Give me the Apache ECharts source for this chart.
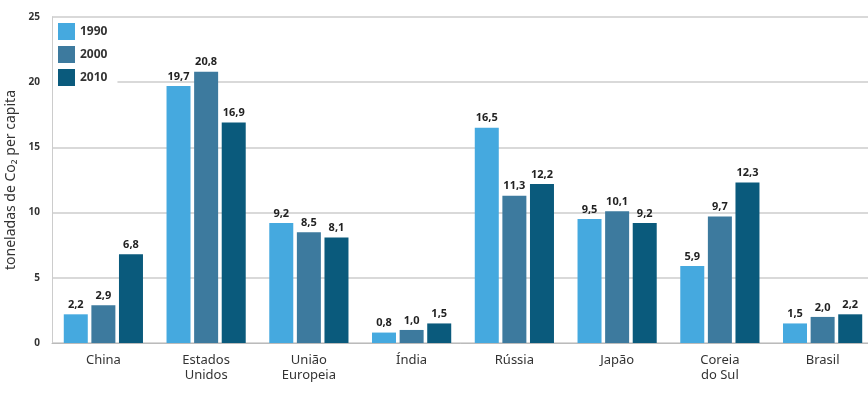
<!DOCTYPE html>
<html>
<head>
<meta charset="utf-8">
<script src="https://cdn.jsdelivr.net/npm/echarts@6/dist/echarts.min.js"></script>
<style>
  html, body { margin: 0; padding: 0; background: #fff; }
  #grafico { width: 868px; height: 394px; }
</style>
</head>
<body>
<div id="grafico"></div>
<script>
// Datos del gráfico
const paises = ['China', 'Estados\nUnidos', 'União\nEuropeia', 'Índia', 'Rússia', 'Japão', 'Coreia\ndo Sul', 'Brasil'];
const anos = ['1990', '2000', '2010'];
const valores1990 = [2.2, 19.7, 9.2, 0.8, 16.5, 9.5, 5.9, 1.5];
const valores2000 = [2.9, 20.8, 8.5, 1.0, 11.3, 10.1, 9.7, 2.0];
const valores2010 = [6.8, 16.9, 8.1, 1.5, 12.2, 9.2, 12.3, 2.2];
const cores = ['#45a9df', '#3d7a9e', '#0a5a7c'];
const fonte = '"Liberation Sans Narrow", "Noto Sans", sans-serif';

const grafico = echarts.init(document.getElementById('grafico'));

function serie(nome, dados, cor) {
    return {
        name: nome,
        type: 'bar',
        data: dados,
        barWidth: 24,
        barGap: '15%',
        itemStyle: { color: cor },
        label: {
            show: true,
            position: 'top',
            distance: 4,
            color: '#222',
            fontFamily: fonte,
            fontWeight: 'bold',
            fontSize: 11,
            formatter: p => p.value.toFixed(1).replace('.', ',')
        }
    };
}

grafico.setOption({
    animation: false,
    color: cores,
    grid: { left: 52, top: 17, bottom: 51, width: 822, outerBoundsMode: 'none', containLabel: false },
    legend: {
        data: anos,
        orient: 'vertical',
        left: 53,
        top: 18,
        padding: [5, 10, 6, 5],
        icon: 'rect',
        itemWidth: 17,
        itemHeight: 17,
        itemGap: 6,
        backgroundColor: '#fff',
        textStyle: { fontFamily: fonte, fontWeight: 'bold', fontSize: 12, color: '#333' }
    },
    xAxis: {
        type: 'category',
        data: paises,
        axisTick: { show: false },
        axisLine: { lineStyle: { color: '#bbb' } },
        axisLabel: { margin: 10, fontFamily: fonte, fontSize: 13, color: '#333', lineHeight: 15 }
    },
    yAxis: {
        type: 'value',
        min: 0,
        max: 25,
        interval: 5,
        name: 'toneladas de Co₂ per capita',
        nameLocation: 'middle',
        nameGap: 32,
        nameRotate: 90,
        nameTextStyle: { fontFamily: fonte, fontSize: 14, color: '#333' },
        axisLine: { show: true, lineStyle: { color: '#ccc' } },
        axisLabel: { fontFamily: fonte, fontWeight: 'bold', fontSize: 10, color: '#333', margin: 12 },
        splitLine: { lineStyle: { color: '#ccc', width: 1.5 } }
    },
    series: [
        serie(anos[0], valores1990, cores[0]),
        serie(anos[1], valores2000, cores[1]),
        serie(anos[2], valores2010, cores[2])
    ]
});
</script>
</body>
</html>
